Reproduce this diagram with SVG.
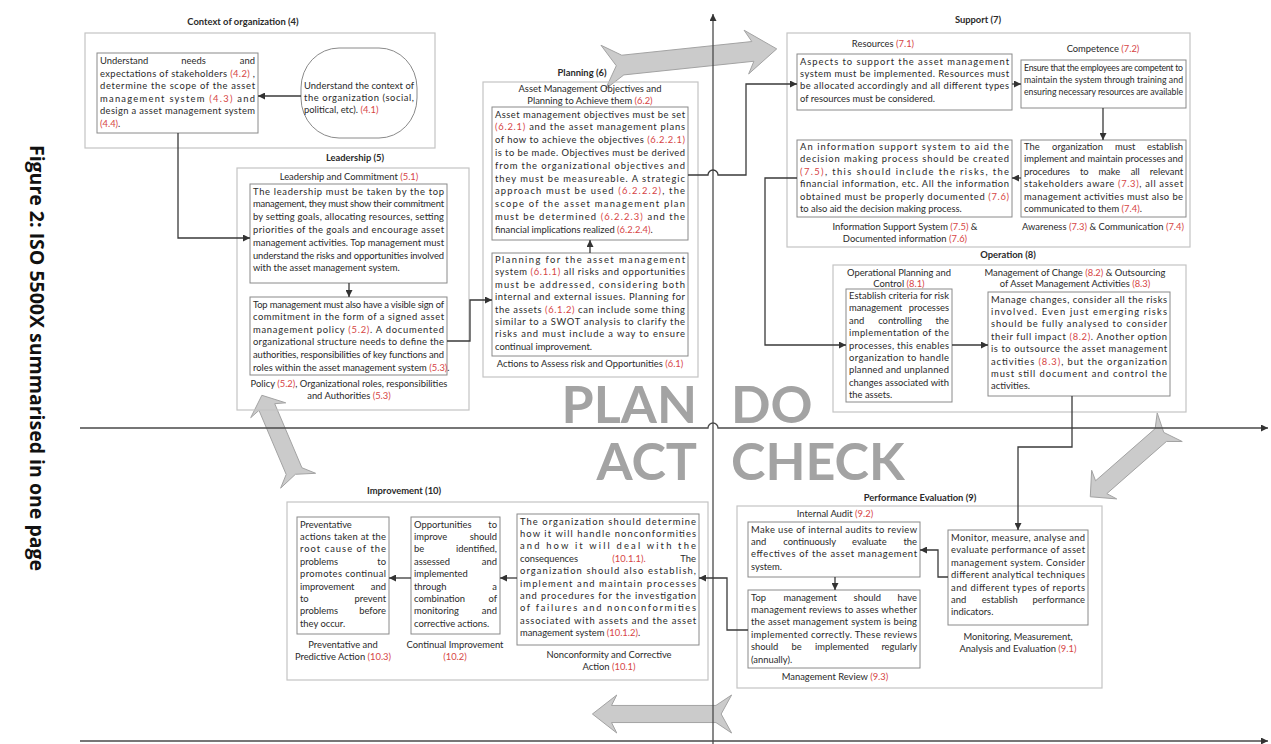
<svg xmlns="http://www.w3.org/2000/svg" width="1271" height="744" viewBox="0 0 1271 744">
<defs>
<style>
.t{font-family:Lato,"Liberation Sans",sans-serif;font-size:9.4px;fill:#2a2a2a}
.s{font-size:8.7px}
.c{text-anchor:middle}
.e{text-anchor:end}
.b{font-weight:700}
.r{fill:#d64545}
.ob{fill:none;stroke:#c4c4c4;stroke-width:1.2}
.ib{fill:#fff;stroke:#8a8a8a;stroke-width:1}
.cn{fill:none;stroke:#3a3a3a;stroke-width:1.3;marker-end:url(#ah)}
.ax{fill:none;stroke:#4a4a4a;stroke-width:1.3}
.big{font-family:Lato,"Open Sans",sans-serif;font-weight:700;font-size:52px;fill:#a3a3a3}
</style>
<marker id="ah" viewBox="0 0 8 8" refX="8" refY="4" markerWidth="7" markerHeight="7" markerUnits="userSpaceOnUse" orient="auto"><path d="M0,0 L8,4 L0,8 z" fill="#333"/></marker>
<path id="fat" vector-effect="non-scaling-stroke" d="M80,0 L52,-20 L58,-9 L-62,-9 L-80,-20 L-68,0 L-80,20 L-62,9 L58,9 L52,20 Z"/>
</defs>
<rect width="1271" height="744" fill="#fff"/>

<!-- rotated figure caption -->
<text id="caption" transform="translate(30,358) rotate(90)" text-anchor="middle" style="font-family:'Open Sans','Liberation Sans',sans-serif;font-weight:700;font-size:19.5px;fill:#111">Figure 2: ISO 5500X summarised in one page</text>

<!-- PDCA cycle arrows -->
<g id="cycle-arrows" fill="#cbcbcb" stroke="#a3a3a3" stroke-width="1">
<use href="#fat" transform="translate(690,58) rotate(-6) scale(1.09,1.1)"/>
<use href="#fat" transform="translate(1130,462) rotate(138.8) scale(0.66,0.95)"/>
<use href="#fat" transform="translate(662,714) rotate(180) scale(0.87,0.95)"/>
<use href="#fat" transform="translate(280,438) rotate(-113) scale(0.58,0.95)"/>
</g>

<!-- quadrant axes -->
<g id="axes">
<path class="ax" d="M713,744 V14" marker-end="url(#ah)"/>
<path class="ax" d="M80,428 H708 a5,5 0 0 1 10,0 H1268" marker-end="url(#ah)"/>
<path class="ax" d="M80,741 H1268" marker-end="url(#ah)"/>
</g>

<g id="pdca-labels">
<text class="big e" x="697" y="423">PLAN</text>
<text class="big" x="731" y="423">DO</text>
<text class="big e" x="697" y="480">ACT</text>
<text class="big" x="731" y="480">CHECK</text>
</g>

<!-- Context of organization (4) -->
<g id="context">
<text class="t b c" x="243" y="25">Context of organization (4)</text>
<rect class="ob" x="85" y="33" width="350" height="115"/>
<g id="n-4-1">
<rect class="ib" x="301" y="48" width="116" height="90" rx="38" ry="40"/>
<text class="t" x="304" y="89" textLength="110" lengthAdjust="spacing">Understand the context of</text>
<text class="t" x="304" y="101" textLength="110" lengthAdjust="spacing">the organization (social,</text>
<text class="t" x="304" y="113">political, etc). <tspan class="r">(4.1)</tspan></text>
</g>
<g id="n-4-2">
<rect class="ib" x="97" y="53" width="161" height="80"/>
<text class="t" x="100" y="64">Understand</text><text class="t c" x="193.6" y="64">needs</text><text class="t e" x="255" y="64">and</text>
<text class="t" x="100" y="76.5" textLength="155" lengthAdjust="spacing">expectations of stakeholders <tspan class="r">(4.2)</tspan> ,</text>
<text class="t" x="100" y="89" textLength="155" lengthAdjust="spacing">determine the scope of the asset</text>
<text class="t" x="100" y="101.5" textLength="155" lengthAdjust="spacing">management system <tspan class="r">(4.3)</tspan> and</text>
<text class="t" x="100" y="114" textLength="155" lengthAdjust="spacing">design a asset management system</text>
<text class="t" x="100" y="126.5"><tspan class="r">(4.4)</tspan>.</text>
</g>
</g>

<!-- Leadership (5) -->
<g id="leadership">
<text class="t b c" x="355" y="161">Leadership (5)</text>
<rect class="ob" x="237" y="168" width="232" height="242"/>
<g id="n-5-1">
<text class="t c" x="349" y="179.5">Leadership and Commitment <tspan class="r">(5.1)</tspan></text>
<rect class="ib" x="250" y="184" width="197" height="99"/>
<text class="t" x="253" y="194.5" textLength="191" lengthAdjust="spacing">The leadership must be taken by the top</text>
<text class="t" x="253" y="207.3" textLength="191" lengthAdjust="spacing">management, they must show their commitment</text>
<text class="t" x="253" y="220.1" textLength="191" lengthAdjust="spacing">by setting goals, allocating resources, setting</text>
<text class="t" x="253" y="232.9" textLength="191" lengthAdjust="spacing">priorities of the goals and encourage asset</text>
<text class="t" x="253" y="245.7" textLength="191" lengthAdjust="spacing">management activities. Top management must</text>
<text class="t" x="253" y="258.5" textLength="191" lengthAdjust="spacing">understand the risks and opportunities involved</text>
<text class="t" x="253" y="271.3">with the asset management system.</text>
</g>
<g id="n-5-2">
<rect class="ib" x="250" y="297" width="197" height="78"/>
<text class="t" x="253" y="307.5" textLength="191" lengthAdjust="spacing">Top management must also have a visible sign of</text>
<text class="t" x="253" y="320.1" textLength="191" lengthAdjust="spacing">commitment in the form of a signed asset</text>
<text class="t" x="253" y="332.7" textLength="191" lengthAdjust="spacing">management policy <tspan class="r">(5.2)</tspan>. A documented</text>
<text class="t" x="253" y="345.3" textLength="191" lengthAdjust="spacing">organizational structure needs to define the</text>
<text class="t" x="253" y="357.9" textLength="191" lengthAdjust="spacing">authorities, responsibilities of key functions and</text>
<text class="t" x="253" y="370.5">roles within the asset management system <tspan class="r">(5.3)</tspan>.</text>
<text class="t c" x="349" y="387">Policy <tspan class="r">(5.2)</tspan>, Organizational roles, responsibilities</text>
<text class="t c" x="349" y="399">and Authorities <tspan class="r">(5.3)</tspan></text>
</g>
</g>

<!-- Planning (6) -->
<g id="planning">
<text class="t b c" x="582" y="76">Planning (6)</text>
<rect class="ob" x="483" y="82" width="215" height="295"/>
<g id="n-6-2">
<text class="t c" x="590" y="92">Asset Management Objectives and</text>
<text class="t c" x="590" y="103.5">Planning to Achieve them <tspan class="r">(6.2)</tspan></text>
<rect class="ib" x="492" y="107" width="196" height="133"/>
<text class="t" x="495" y="117.5" textLength="190" lengthAdjust="spacing">Asset management objectives must be set</text>
<text class="t" x="495" y="130.3" textLength="190" lengthAdjust="spacing"><tspan class="r">(6.2.1)</tspan> and the asset management plans</text>
<text class="t" x="495" y="143.1" textLength="190" lengthAdjust="spacing">of how to achieve the objectives <tspan class="r">(6.2.2.1)</tspan></text>
<text class="t" x="495" y="155.9" textLength="190" lengthAdjust="spacing">is to be made. Objectives must be derived</text>
<text class="t" x="495" y="168.7" textLength="190" lengthAdjust="spacing">from the organizational objectives and</text>
<text class="t" x="495" y="181.5" textLength="190" lengthAdjust="spacing">they must be measureable. A strategic</text>
<text class="t" x="495" y="194.3" textLength="190" lengthAdjust="spacing">approach must be used <tspan class="r">(6.2.2.2)</tspan>, the</text>
<text class="t" x="495" y="207.1" textLength="190" lengthAdjust="spacing">scope of the asset management plan</text>
<text class="t" x="495" y="219.9" textLength="190" lengthAdjust="spacing">must be determined <tspan class="r">(6.2.2.3)</tspan> and the</text>
<text class="t" x="495" y="232.7">financial implications realized <tspan class="r">(6.2.2.4)</tspan>.</text>
</g>
<g id="n-6-1">
<rect class="ib" x="492" y="253" width="196" height="103"/>
<text class="t" x="495" y="263" textLength="190" lengthAdjust="spacing">Planning for the asset management</text>
<text class="t" x="495" y="275.4" textLength="190" lengthAdjust="spacing">system <tspan class="r">(6.1.1)</tspan> all risks and opportunities</text>
<text class="t" x="495" y="287.8" textLength="190" lengthAdjust="spacing">must be addressed, considering both</text>
<text class="t" x="495" y="300.2" textLength="190" lengthAdjust="spacing">internal and external issues. Planning for</text>
<text class="t" x="495" y="312.6" textLength="190" lengthAdjust="spacing">the assets <tspan class="r">(6.1.2)</tspan> can include some thing</text>
<text class="t" x="495" y="325" textLength="190" lengthAdjust="spacing">similar to a SWOT analysis to clarify the</text>
<text class="t" x="495" y="337.4" textLength="190" lengthAdjust="spacing">risks and must include a way to ensure</text>
<text class="t" x="495" y="349.8">continual improvement.</text>
<text class="t c" x="590" y="367">Actions to Assess risk and Opportunities <tspan class="r">(6.1)</tspan></text>
</g>
</g>

<!-- Support (7) -->
<g id="support">
<text class="t b c" x="978" y="23">Support (7)</text>
<rect class="ob" x="787" y="33" width="403" height="214"/>
<g id="n-7-1">
<text class="t c" x="883" y="47">Resources <tspan class="r">(7.1)</tspan></text>
<rect class="ib" x="797" y="54" width="215" height="56"/>
<text class="t" x="800" y="64.5" textLength="209" lengthAdjust="spacing">Aspects to support the asset management</text>
<text class="t" x="800" y="76.9" textLength="209" lengthAdjust="spacing">system must be implemented. Resources must</text>
<text class="t" x="800" y="89.3" textLength="209" lengthAdjust="spacing">be allocated accordingly and all different types</text>
<text class="t" x="800" y="101.7">of resources must be considered.</text>
</g>
<g id="n-7-2">
<text class="t c" x="1103" y="52">Competence <tspan class="r">(7.2)</tspan></text>
<rect class="ib" x="1021" y="60" width="165" height="48"/>
<text class="t s" x="1024" y="70.5" textLength="159" lengthAdjust="spacing">Ensure that the employees are competent to</text>
<text class="t s" x="1024" y="82.9" textLength="159" lengthAdjust="spacing">maintain the system through training and</text>
<text class="t s" x="1024" y="95.3" textLength="159" lengthAdjust="spacing">ensuring necessary resources are available</text>
</g>
<g id="n-7-3">
<rect class="ib" x="1021" y="140" width="165" height="77"/>
<text class="t" x="1024" y="150">The</text><text class="t" x="1052.1" y="150">organization</text><text class="t" x="1115" y="150">must</text><text class="t e" x="1183" y="150">establish</text>
<text class="t" x="1024" y="162.4" textLength="159" lengthAdjust="spacing">implement and maintain processes and</text>
<text class="t" x="1024" y="174.8">procedures</text><text class="t" x="1079.9" y="174.8">to</text><text class="t" x="1098.4" y="174.8">make</text><text class="t" x="1130.7" y="174.8">all</text><text class="t e" x="1183" y="174.8">relevant</text>
<text class="t" x="1024" y="187.2" textLength="159" lengthAdjust="spacing">stakeholders aware <tspan class="r">(7.3)</tspan>, all asset</text>
<text class="t" x="1024" y="199.6" textLength="159" lengthAdjust="spacing">management activities must also be</text>
<text class="t" x="1024" y="212">communicated to them <tspan class="r">(7.4)</tspan>.</text>
<text class="t c" x="1103" y="230">Awareness <tspan class="r">(7.3)</tspan> &amp; Communication <tspan class="r">(7.4)</tspan></text>
</g>
<g id="n-7-5">
<rect class="ib" x="797" y="140" width="215" height="77"/>
<text class="t" x="800" y="150" textLength="209" lengthAdjust="spacing">An information support system to aid the</text>
<text class="t" x="800" y="162.4" textLength="209" lengthAdjust="spacing">decision making process should be created</text>
<text class="t" x="800" y="174.8" textLength="209" lengthAdjust="spacing"><tspan class="r">(7.5)</tspan>, this should include the risks, the</text>
<text class="t" x="800" y="187.2" textLength="209" lengthAdjust="spacing">financial information, etc. All the information</text>
<text class="t" x="800" y="199.6" textLength="209" lengthAdjust="spacing">obtained must be properly documented <tspan class="r">(7.6)</tspan></text>
<text class="t" x="800" y="212">to also aid the decision making process.</text>
<text class="t c" x="905" y="230">Information Support System <tspan class="r">(7.5)</tspan> &amp;</text>
<text class="t c" x="905" y="242">Documented information <tspan class="r">(7.6)</tspan></text>
</g>
</g>

<!-- Operation (8) -->
<g id="operation">
<text class="t b c" x="1008" y="258">Operation (8)</text>
<rect class="ob" x="833" y="265" width="353" height="147"/>
<g id="n-8-1">
<text class="t c" x="899" y="275.5">Operational Planning and</text>
<text class="t c" x="899" y="286.5">Control <tspan class="r">(8.1)</tspan></text>
<rect class="ib" x="846" y="289" width="106" height="113"/>
<text class="t" x="849" y="299" textLength="100" lengthAdjust="spacing">Establish criteria for risk</text>
<text class="t" x="849" y="311.4">management</text><text class="t e" x="949" y="311.4">processes</text>
<text class="t" x="849" y="323.8">and</text><text class="t c" x="900" y="323.8">controlling</text><text class="t e" x="949" y="323.8">the</text>
<text class="t" x="849" y="336.2" textLength="100" lengthAdjust="spacing">implementation of the</text>
<text class="t" x="849" y="348.6" textLength="100" lengthAdjust="spacing">processes, this enables</text>
<text class="t" x="849" y="361" textLength="100" lengthAdjust="spacing">organization to handle</text>
<text class="t" x="849" y="373.4" textLength="100" lengthAdjust="spacing">planned and unplanned</text>
<text class="t" x="849" y="385.8" textLength="100" lengthAdjust="spacing">changes associated with</text>
<text class="t" x="849" y="398.2">the assets.</text>
</g>
<g id="n-8-2">
<text class="t c" x="1075" y="275.5">Management of Change <tspan class="r">(8.2)</tspan> &amp; Outsourcing</text>
<text class="t c" x="1075" y="286.5">of Asset Management Activities <tspan class="r">(8.3)</tspan></text>
<rect class="ib" x="988" y="292" width="182" height="104"/>
<text class="t" x="991" y="302.5" textLength="176" lengthAdjust="spacing">Manage changes, consider all the risks</text>
<text class="t" x="991" y="314.9" textLength="176" lengthAdjust="spacing">involved. Even just emerging risks</text>
<text class="t" x="991" y="327.3" textLength="176" lengthAdjust="spacing">should be fully analysed to consider</text>
<text class="t" x="991" y="339.7" textLength="176" lengthAdjust="spacing">their full impact <tspan class="r">(8.2)</tspan>. Another option</text>
<text class="t" x="991" y="352.1" textLength="176" lengthAdjust="spacing">is to outsource the asset management</text>
<text class="t" x="991" y="364.5" textLength="176" lengthAdjust="spacing">activities <tspan class="r">(8.3)</tspan>, but the organization</text>
<text class="t" x="991" y="376.9" textLength="176" lengthAdjust="spacing">must still document and control the</text>
<text class="t" x="991" y="389.3">activities.</text>
</g>
</g>

<!-- Performance Evaluation (9) -->
<g id="performance">
<text class="t b c" x="920" y="501">Performance Evaluation (9)</text>
<rect class="ob" x="737" y="506" width="365" height="182"/>
<g id="n-9-2">
<text class="t c" x="835" y="517">Internal Audit <tspan class="r">(9.2)</tspan></text>
<rect class="ib" x="748" y="522" width="172" height="55"/>
<text class="t" x="751" y="532.5" textLength="166" lengthAdjust="spacing">Make use of internal audits to review</text>
<text class="t" x="751" y="544.9">and</text><text class="t" x="783.3" y="544.9">continuously</text><text class="t" x="852.1" y="544.9">evaluate</text><text class="t e" x="917" y="544.9">the</text>
<text class="t" x="751" y="557.3" textLength="166" lengthAdjust="spacing">effectives of the asset management</text>
<text class="t" x="751" y="569.7">system.</text>
</g>
<g id="n-9-3">
<rect class="ib" x="748" y="590" width="172" height="78"/>
<text class="t" x="751" y="600.5">Top</text><text class="t" x="783.6" y="600.5">management</text><text class="t" x="853.6" y="600.5">should</text><text class="t e" x="917" y="600.5">have</text>
<text class="t" x="751" y="612.9" textLength="166" lengthAdjust="spacing">management reviews to asses whether</text>
<text class="t" x="751" y="625.3" textLength="166" lengthAdjust="spacing">the asset management system is being</text>
<text class="t" x="751" y="637.7" textLength="166" lengthAdjust="spacing">implemented correctly. These reviews</text>
<text class="t" x="751" y="650.1">should</text><text class="t" x="791.5" y="650.1">be</text><text class="t" x="815" y="650.1">implemented</text><text class="t e" x="917" y="650.1">regularly</text>
<text class="t" x="751" y="662.5">(annually).</text>
<text class="t c" x="835" y="680">Management Review <tspan class="r">(9.3)</tspan></text>
</g>
<g id="n-9-1">
<rect class="ib" x="948" y="530" width="140" height="95"/>
<text class="t" x="951" y="541" textLength="134" lengthAdjust="spacing">Monitor, measure, analyse and</text>
<text class="t" x="951" y="553.4" textLength="134" lengthAdjust="spacing">evaluate performance of asset</text>
<text class="t" x="951" y="565.8" textLength="134" lengthAdjust="spacing">management system. Consider</text>
<text class="t" x="951" y="578.2" textLength="134" lengthAdjust="spacing">different analytical techniques</text>
<text class="t" x="951" y="590.6" textLength="134" lengthAdjust="spacing">and different types of reports</text>
<text class="t" x="951" y="603">and</text><text class="t c" x="999.7" y="603">establish</text><text class="t e" x="1085" y="603">performance</text>
<text class="t" x="951" y="615.4">indicators.</text>
<text class="t c" x="1018" y="640">Monitoring, Measurement,</text>
<text class="t c" x="1018" y="652">Analysis and Evaluation <tspan class="r">(9.1)</tspan></text>
</g>
</g>

<!-- Improvement (10) -->
<g id="improvement">
<text class="t b c" x="404" y="494">Improvement (10)</text>
<rect class="ob" x="287" y="502" width="421" height="178"/>
<g id="n-10-3">
<rect class="ib" x="297" y="517" width="92" height="117"/>
<text class="t" x="300" y="527.5">Preventative</text>
<text class="t" x="300" y="539.9" textLength="86" lengthAdjust="spacing">actions taken at the</text>
<text class="t" x="300" y="552.3" textLength="86" lengthAdjust="spacing">root cause of the</text>
<text class="t" x="300" y="564.7">problems</text><text class="t e" x="386" y="564.7">to</text>
<text class="t" x="300" y="577.1" textLength="86" lengthAdjust="spacing">promotes continual</text>
<text class="t" x="300" y="589.5">improvement</text><text class="t e" x="386" y="589.5">and</text>
<text class="t" x="300" y="601.9">to</text><text class="t e" x="386" y="601.9">prevent</text>
<text class="t" x="300" y="614.3">problems</text><text class="t e" x="386" y="614.3">before</text>
<text class="t" x="300" y="626.7">they occur.</text>
<text class="t c" x="343" y="648">Preventative and</text>
<text class="t c" x="343" y="660">Predictive Action <tspan class="r">(10.3)</tspan></text>
</g>
<g id="n-10-2">
<rect class="ib" x="411" y="517" width="89" height="117"/>
<text class="t" x="414" y="527.5">Opportunities</text><text class="t e" x="497" y="527.5">to</text>
<text class="t" x="414" y="539.9">improve</text><text class="t e" x="497" y="539.9">should</text>
<text class="t" x="414" y="552.3">be</text><text class="t e" x="497" y="552.3">identified,</text>
<text class="t" x="414" y="564.7">assessed</text><text class="t e" x="497" y="564.7">and</text>
<text class="t" x="414" y="577.1">implemented</text>
<text class="t" x="414" y="589.5">through</text><text class="t e" x="497" y="589.5">a</text>
<text class="t" x="414" y="601.9">combination</text><text class="t e" x="497" y="601.9">of</text>
<text class="t" x="414" y="614.3">monitoring</text><text class="t e" x="497" y="614.3">and</text>
<text class="t" x="414" y="626.7">corrective actions.</text>
<text class="t c" x="455" y="648">Continual Improvement</text>
<text class="t c r" x="455" y="660">(10.2)</text>
</g>
<g id="n-10-1">
<rect class="ib" x="517" y="514" width="182" height="131"/>
<text class="t" x="520" y="524.5" textLength="176" lengthAdjust="spacing">The organization should determine</text>
<text class="t" x="520" y="536.9" textLength="176" lengthAdjust="spacing">how it will handle nonconformities</text>
<text class="t" x="520" y="549.3" textLength="176" lengthAdjust="spacing">and how it will deal with the</text>
<text class="t" x="520" y="561.7">consequences</text><text class="t c r" x="629" y="561.7">(10.1.1).</text><text class="t e" x="696" y="561.7">The</text>
<text class="t" x="520" y="574.1" textLength="176" lengthAdjust="spacing">organization should also establish,</text>
<text class="t" x="520" y="586.5" textLength="176" lengthAdjust="spacing">implement and maintain processes</text>
<text class="t" x="520" y="598.9" textLength="176" lengthAdjust="spacing">and procedures for the investigation</text>
<text class="t" x="520" y="611.3" textLength="176" lengthAdjust="spacing">of failures and nonconformities</text>
<text class="t" x="520" y="623.7" textLength="176" lengthAdjust="spacing">associated with assets and the asset</text>
<text class="t" x="520" y="636.1">management system <tspan class="r">(10.1.2)</tspan>.</text>
<text class="t c" x="609" y="658">Nonconformity and Corrective</text>
<text class="t c" x="609" y="670">Action <tspan class="r">(10.1)</tspan></text>
</g>
</g>

<!-- connectors between clause boxes -->
<g id="connectors">
<path class="cn" d="M301,96 H258"/>
<path class="cn" d="M178,133 V238 H250"/>
<path class="cn" d="M349,283 V297"/>
<path class="cn" d="M447,341 H470 V300 H492"/>
<path class="cn" d="M590,253 V240"/>
<path class="cn" d="M688,175 H708 a5,5 0 0 1 10,0 H746 V84 H797"/>
<path class="cn" d="M1012,84 H1021"/>
<path class="cn" d="M1103,108 V140"/>
<path class="cn" d="M1021,178 H1012"/>
<path class="cn" d="M797,178 H765 V345 H846"/>
<path class="cn" d="M952,345 H988"/>
<path class="cn" d="M1072,396 V447 H1018 V530"/>
<path class="cn" d="M948,577 H938 V550 H920"/>
<path class="cn" d="M835,577 V590"/>
<path class="cn" d="M748,630 H727 V578 H699"/>
<path class="cn" d="M517,578 H500"/>
<path class="cn" d="M411,578 H389"/>
</g>
</svg>
